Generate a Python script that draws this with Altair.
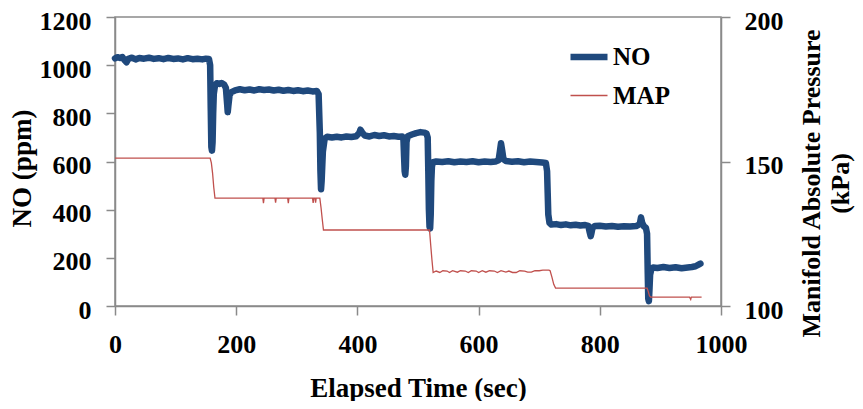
import altair as alt
import pandas as pd

# ---- data ----
no_time = [0, 4, 8, 12, 16, 19, 22, 28, 34, 40, 48, 56, 64, 72, 80, 88, 96, 104, 112, 120, 128, 136, 144, 150, 155,
           157, 158, 159, 160, 161, 162, 163, 165, 168, 172, 176, 180, 183, 185, 186, 187, 189, 192, 198, 206, 214,
           222, 230, 238, 246, 254, 262, 270, 278, 286, 294, 302, 310, 318, 326, 333, 336, 338, 339, 340, 341, 343,
           346, 350, 358, 366, 374, 382, 390, 398, 403, 405, 408, 412, 420, 428, 436, 444, 452, 460, 468, 474, 476,
           477, 478, 479, 480, 481, 483, 490, 497, 504, 510, 514, 516, 517, 518, 519, 520, 521, 522, 523, 525, 530,
           540, 550, 560, 570, 580, 590, 600, 610, 620, 628, 633, 635, 637, 639, 641, 645, 655, 665, 675, 685, 695,
           705, 711, 713, 714, 715, 717, 720, 728, 736, 744, 752, 760, 768, 776, 781, 783, 785, 786, 788, 792, 800,
           810, 820, 830, 840, 850, 860, 866, 868, 870, 873, 876, 878, 879, 880, 881, 882, 883, 885, 888, 895, 905,
           915, 925, 935, 945, 952, 958, 963, 966]
no_ppm = [1028, 1033, 1030, 1034, 1020, 1012, 1026, 1031, 1024, 1030, 1027, 1031, 1026, 1029, 1025, 1030, 1026, 1028,
          1024, 1029, 1025, 1027, 1024, 1027, 1026,
          1000, 820, 660, 645, 680, 800, 880, 915, 925, 922, 926, 920, 905, 840, 805, 830, 875, 888, 895, 900, 896,
          899, 895, 900, 897, 899, 895, 898, 894, 897, 893, 896, 892, 895, 891, 893, 880, 720, 560, 485, 520, 640,
          695, 703, 700, 703, 700, 704, 702, 705, 718, 732, 720, 708, 704, 710, 706, 709, 704, 706, 703, 704, 690,
          620, 560, 545, 580, 680, 705, 712, 718, 722, 720, 716, 700, 560, 400, 330, 322, 380, 520, 580, 597, 600,
          598, 601, 597, 600, 598, 601, 597, 600, 598, 600, 605, 640, 676, 645, 610, 602, 599, 601, 597, 600, 598,
          596, 594, 560, 470, 380, 345, 338, 340, 336, 339, 335, 337, 334, 336, 333, 310, 290, 300, 325, 332, 333,
          330, 332, 329, 331, 330, 332, 340, 368, 345, 330, 325, 300, 150, 30, 20, 70, 130, 152, 160, 158, 162,
          158, 161, 157, 160, 162, 165, 172, 176]

map_time = [0, 157, 159, 161, 163, 165, 244, 245, 246, 264, 265, 266, 285, 286, 287, 326, 327, 328, 330, 331, 332,
            338, 340, 342, 344, 519, 521, 523, 525, 530, 536, 541, 548, 552, 557, 565, 570, 578, 583, 588, 596, 600,
            606, 612, 618, 626, 631, 637, 645, 650, 656, 662, 668, 676, 681, 687, 693, 700, 706, 716, 718, 721, 724,
            727, 878, 880, 882, 884, 948, 950, 951, 968]
map_kpa = [151.2, 151.2, 149.5, 146, 141, 137.3, 137.3, 135.6, 137.3, 137.3, 135.8, 137.3, 137.3, 135.6, 137.3,
           137.3, 135.7, 137.3, 137.3, 135.8, 137.3,
           137.3, 134, 130, 126.3, 126.3, 121, 116, 111.6, 112.1, 111.6, 112.2, 112.1, 111.6, 112.2, 111.7, 112.2,
           112.1, 111.6, 112.2, 112.1, 111.6, 112.2, 111.7, 112.2, 112.1, 111.6, 112.2, 111.7, 112.1, 111.6, 111.6,
           112.2, 112.1, 111.7, 111.7, 112.2, 112.2, 112.4, 112.4, 112.2, 110, 107.5, 106.2, 106.2, 105, 103.5,
           103.1, 103.1, 102.3, 103.1, 103.1]

series_names = ["NO", "MAP"]
series_colors = ["#1F497D", "#C0504D"]
series_widths = [6.5, 1.3]

x_ticks = [0, 200, 400, 600, 800, 1000]
no_ticks = [0, 200, 400, 600, 800, 1000, 1200]
map_ticks = [100, 150, 200]

no_df = pd.DataFrame({"t": no_time, "v": no_ppm, "series": "NO"})
map_df = pd.DataFrame({"t": map_time, "v": map_kpa, "series": "MAP"})

FONT = "Liberation Serif"

legend = alt.Legend(
    orient="none", legendX=452, legendY=18, padding=0, rowPadding=6,
    symbolType="stroke", symbolSize=1369, labelOffset=2,
    labelFont=FONT, labelFontWeight="bold", labelFontSize=25, labelColor="black",
)
color = alt.Color("series:N", title=None,
                  scale=alt.Scale(domain=series_names, range=series_colors), legend=legend)
swidth = alt.StrokeWidth("series:N", title=None,
                         scale=alt.Scale(domain=series_names, range=series_widths), legend=legend)

x_enc = alt.X("t:Q", scale=alt.Scale(domain=[0, 1000], nice=False),
              axis=alt.Axis(title="Elapsed Time (sec)", values=x_ticks, format="d", labelPadding=16,
                            titleY=90, titleBaseline="alphabetic"))

no_line = alt.Chart(no_df).mark_line(strokeJoin="round", strokeCap="round").encode(
    x=x_enc,
    y=alt.Y("v:Q", scale=alt.Scale(domain=[0, 1200], nice=False),
            axis=alt.Axis(title="NO (ppm)", orient="left", values=no_ticks, format="d", labelPadding=15,
                          labelOffset=4,
                          titleX=-93, titleY=151, titleAngle=270, titleBaseline="middle",
                          titleAlign="center")),
    color=color, strokeWidth=swidth, order="t:Q",
)

map_line = alt.Chart(map_df).mark_line(strokeJoin="miter").encode(
    x=x_enc,
    y=alt.Y("v:Q", scale=alt.Scale(domain=[100, 200], nice=False),
            axis=alt.Axis(title=["Manifold Absolute Pressure", "(kPa)"], orient="right",
                          values=map_ticks, format="d", labelPadding=14, labelOffset=4,
                          titleX=90, titleY=166, titleAngle=270, titleBaseline="middle",
                          titleAlign="center", titleLineHeight=29, titleFontSize=26)),
    color=color, strokeWidth=swidth, order="t:Q",
)

chart = alt.layer(no_line, map_line).resolve_scale(y="independent").properties(
    width=606, height=289,
    autosize=alt.AutoSizeParams(type="none"),
    padding={"left": 107, "top": 9, "right": 134, "bottom": 95},
).configure_view(
    stroke="#8a8a8a", strokeWidth=1.5
).configure_axis(
    grid=False, domainColor="#8a8a8a", domainWidth=1.5, tickColor="#8a8a8a", tickWidth=1.5,
    tickSize=9, labelFlush=False, labelOverlap=False,
    labelFont=FONT, labelFontWeight="bold", labelFontSize=26, labelColor="black",
    titleFont=FONT, titleFontWeight="bold", titleFontSize=27, titleColor="black",
)

chart.save("out.html", embed_options={"renderer": "svg", "actions": False})
